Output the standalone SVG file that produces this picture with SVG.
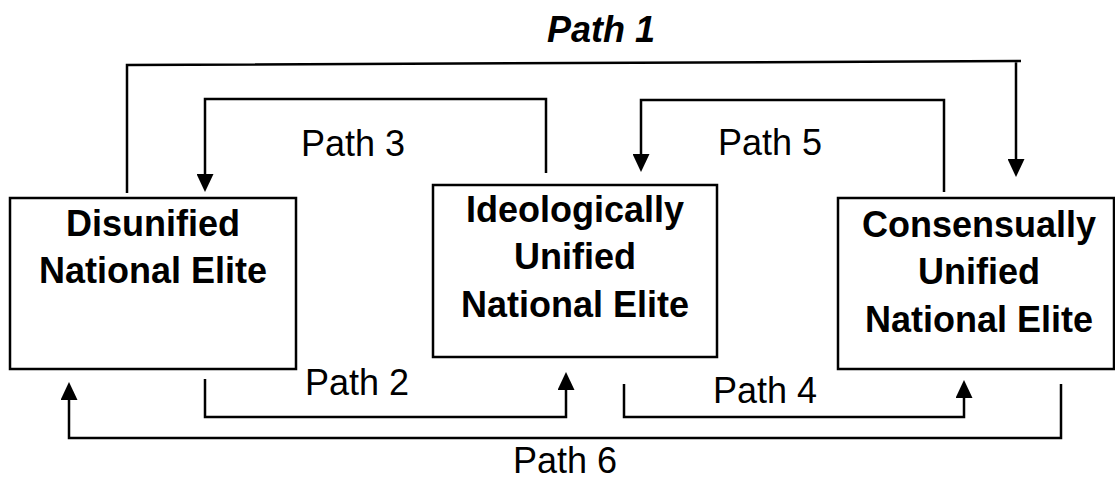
<svg xmlns="http://www.w3.org/2000/svg" width="1115" height="480" viewBox="0 0 1115 480">
<style>
.box{fill:#fff;stroke:#000;stroke-width:2.5}
.con{fill:none;stroke:#000;stroke-width:2.5}
.t{font-family:'Liberation Sans',Arial,sans-serif;font-size:36px;fill:#000}
.b{font-weight:bold;text-anchor:middle;font-size:36px}
</style>
<defs>
<marker id="ah" viewBox="0 0 18 17" refX="8" refY="8.5" markerWidth="18" markerHeight="17" markerUnits="userSpaceOnUse" orient="auto">
<path d="M0,0 L18,8.5 L0,17 z" fill="#000"/>
</marker>
</defs>
<rect width="1115" height="480" fill="#fff"/>
<g id="connectors">
<path id="path1" class="con" d="M127,193 V65 L1021,61 M1016,61 V167" marker-end="url(#ah)"/>
<path id="path3" class="con" d="M546,173 V99 H205 V182" marker-end="url(#ah)"/>
<path id="path5" class="con" d="M944,192 V100 H641 V162" marker-end="url(#ah)"/>
<path id="path2" class="con" d="M205,379 V417 H566 V382" marker-end="url(#ah)"/>
<path id="path4" class="con" d="M624,384 V417 H964 V390" marker-end="url(#ah)"/>
<path id="path6" class="con" d="M1061,384 V438 H69 V392" marker-end="url(#ah)"/>
</g>
<g id="labels">
<text class="t" x="547" y="42" style="font-weight:bold;font-style:italic">Path 1</text>
<text class="t" x="301" y="156">Path 3</text>
<text class="t" x="718" y="155">Path 5</text>
<text class="t" x="305" y="395">Path 2</text>
<text class="t" x="713" y="403">Path 4</text>
<text class="t" x="513" y="473">Path 6</text>
</g>
<g id="disunified">
<rect class="box" x="10" y="198" width="286" height="171"/>
<text class="t b" x="153" y="236">Disunified</text>
<text class="t b" x="153" y="283">National Elite</text>
</g>
<g id="ideological">
<rect class="box" x="433" y="185" width="284" height="172"/>
<text class="t b" x="575" y="222">Ideologically</text>
<text class="t b" x="575" y="269">Unified</text>
<text class="t b" x="575" y="317">National Elite</text>
</g>
<g id="consensual">
<rect class="box" x="838" y="198" width="276" height="171"/>
<text class="t b" x="979" y="237">Consensually</text>
<text class="t b" x="979" y="284">Unified</text>
<text class="t b" x="979" y="332">National Elite</text>
</g>
</svg>
